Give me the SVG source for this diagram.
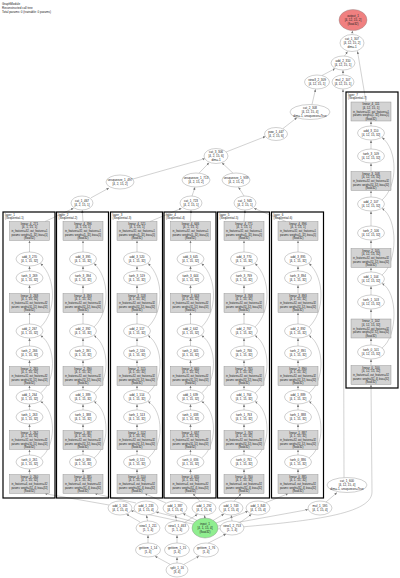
<svg xmlns="http://www.w3.org/2000/svg" width="400" height="578" viewBox="0 0 400 578">
<defs>
<style>
text{font-family:"Liberation Sans",Arial,sans-serif;font-size:3px;fill:#222;text-anchor:middle}
.hd text,.cl>text{text-anchor:start}
.cl>rect{fill:none;stroke:#000;stroke-width:1.2}
.bx rect{fill:#d3d3d3;stroke:#888;stroke-width:0.4}
.el ellipse{fill:#fff;stroke:#888;stroke-width:0.4}
#edges line,#edges path{stroke:#9a9a9a;stroke-width:0.45;fill:none;marker-end:url(#ah)}
</style>
<marker id="ah" markerUnits="userSpaceOnUse" markerWidth="3" markerHeight="3" refX="2.6" refY="1.2" orient="auto"><path d="M0,0 L2.6,1.2 L0,2.4z" fill="#777"/></marker>
</defs>
<rect width="400" height="578" fill="#fff"/>
<g class="hd"><text x="2" y="5">GraphModule</text><text x="2" y="9">Reconstructed call tree</text><text x="2" y="13">Total params: 0 (trainable: 0 params)</text></g>

<g id="edges">
<line x1="352" y1="34.5" x2="352.5" y2="30.8"/>
<line x1="344.5" y1="56" x2="347.5" y2="51.6"/>
<line x1="366" y1="102" x2="357.5" y2="51.3"/>
<line x1="322" y1="75.5" x2="335" y2="68.6"/>
<line x1="343" y1="75" x2="343" y2="70.3"/>
<line x1="312" y1="104.5" x2="315.5" y2="89.3"/>
<line x1="344" y1="477.6" x2="343" y2="89.3"/>
<line x1="283" y1="128.5" x2="297" y2="117.6"/>
<line x1="226" y1="152" x2="265.5" y2="136.5"/>
<line x1="133" y1="179" x2="205" y2="158.6"/>
<line x1="199" y1="173.2" x2="209" y2="162.8"/>
<line x1="233" y1="173.2" x2="222" y2="162.8"/>
<line x1="91" y1="197.8" x2="109" y2="188"/>
<line x1="192" y1="196" x2="195" y2="187.3"/>
<line x1="244" y1="196" x2="238.5" y2="187.2"/>
<line x1="45" y1="221.5" x2="73.5" y2="208.3"/>
<line x1="83" y1="221.5" x2="82.2" y2="210.3"/>
<line x1="150" y1="221.5" x2="181.5" y2="208.3"/>
<line x1="190.5" y1="221.5" x2="191" y2="210.3"/>
<line x1="244" y1="221.5" x2="245" y2="210.3"/>
<line x1="286" y1="221.5" x2="254" y2="208.3"/>
<line x1="109" y1="505" x2="45" y2="493.7"/>
<line x1="136" y1="503" x2="95" y2="493.7"/>
<line x1="166" y1="503" x2="145" y2="493.7"/>
<line x1="200" y1="501.3" x2="193" y2="493.7"/>
<line x1="234" y1="501.3" x2="241" y2="493.7"/>
<line x1="266" y1="502.5" x2="288" y2="493.7"/>
<line x1="140" y1="522" x2="126.5" y2="514.3"/>
<line x1="147.5" y1="521" x2="146.5" y2="515.3"/>
<line x1="176.5" y1="521" x2="175.5" y2="515.3"/>
<line x1="184.5" y1="522.5" x2="197.5" y2="514.3"/>
<line x1="232" y1="521" x2="231.2" y2="515.3"/>
<line x1="240" y1="522.5" x2="251.5" y2="514.3"/>
<line x1="193" y1="524" x2="131" y2="510.8"/>
<line x1="194.5" y1="522" x2="156" y2="512"/>
<line x1="197" y1="520.5" x2="183" y2="513.5"/>
<line x1="205" y1="518" x2="204.3" y2="515.3"/>
<line x1="213" y1="520.5" x2="224" y2="514"/>
<line x1="216" y1="523" x2="248" y2="511.3"/>
<line x1="218" y1="526" x2="308" y2="509.6"/>
<path d="M218,529 C300,522 372,516 372,492 L371,384.8"/>
<line x1="326" y1="502" x2="337" y2="492.6"/>
<line x1="148" y1="543" x2="148" y2="535.3"/>
<line x1="177" y1="543" x2="177" y2="535.3"/>
<line x1="208" y1="543.2" x2="226" y2="534"/>
<line x1="170" y1="564.3" x2="155" y2="556.2"/>
<line x1="177" y1="563" x2="177" y2="557.3"/>
<line x1="184" y1="564.3" x2="199" y2="556.2"/>
<g transform="translate(29.5,0)">
<line x1="0" y1="474.5" x2="0" y2="469.3"/><line x1="0" y1="455" x2="0" y2="449.8"/><line x1="0" y1="430.5" x2="0" y2="424.3"/><line x1="0" y1="410" x2="0" y2="404.3"/><line x1="0" y1="390" x2="0" y2="385.8"/><line x1="0" y1="366.5" x2="0" y2="360.3"/><line x1="0" y1="346" x2="0" y2="338.3"/><line x1="0" y1="324" x2="0" y2="312.8"/><line x1="0" y1="293.5" x2="0" y2="285.3"/><line x1="0" y1="271" x2="0" y2="266.3"/><line x1="0" y1="252" x2="0" y2="240.8"/>
<path d="M11,458 C27,446 27,411 11,401.5"/><path d="M11,393 C27,381 27,346 11,335.5"/><path d="M11,327 C27,312 27,278 11,263.5"/>
</g>
<g transform="translate(83,0)">
<line x1="0" y1="474.5" x2="0" y2="469.3"/><line x1="0" y1="455" x2="0" y2="449.8"/><line x1="0" y1="430.5" x2="0" y2="424.3"/><line x1="0" y1="410" x2="0" y2="404.3"/><line x1="0" y1="390" x2="0" y2="385.8"/><line x1="0" y1="366.5" x2="0" y2="360.3"/><line x1="0" y1="346" x2="0" y2="338.3"/><line x1="0" y1="324" x2="0" y2="312.8"/><line x1="0" y1="293.5" x2="0" y2="285.3"/><line x1="0" y1="271" x2="0" y2="266.3"/><line x1="0" y1="252" x2="0" y2="240.8"/>
<path d="M11,458 C27,446 27,411 11,401.5"/><path d="M11,393 C27,381 27,346 11,335.5"/><path d="M11,327 C27,312 27,278 11,263.5"/>
</g>
<g transform="translate(137,0)">
<line x1="0" y1="474.5" x2="0" y2="469.3"/><line x1="0" y1="455" x2="0" y2="449.8"/><line x1="0" y1="430.5" x2="0" y2="424.3"/><line x1="0" y1="410" x2="0" y2="404.3"/><line x1="0" y1="390" x2="0" y2="385.8"/><line x1="0" y1="366.5" x2="0" y2="360.3"/><line x1="0" y1="346" x2="0" y2="338.3"/><line x1="0" y1="324" x2="0" y2="312.8"/><line x1="0" y1="293.5" x2="0" y2="285.3"/><line x1="0" y1="271" x2="0" y2="266.3"/><line x1="0" y1="252" x2="0" y2="240.8"/>
<path d="M11,458 C27,446 27,411 11,401.5"/><path d="M11,393 C27,381 27,346 11,335.5"/><path d="M11,327 C27,312 27,278 11,263.5"/>
</g>
<g transform="translate(190.5,0)">
<line x1="0" y1="474.5" x2="0" y2="469.3"/><line x1="0" y1="455" x2="0" y2="449.8"/><line x1="0" y1="430.5" x2="0" y2="424.3"/><line x1="0" y1="410" x2="0" y2="404.3"/><line x1="0" y1="390" x2="0" y2="385.8"/><line x1="0" y1="366.5" x2="0" y2="360.3"/><line x1="0" y1="346" x2="0" y2="338.3"/><line x1="0" y1="324" x2="0" y2="312.8"/><line x1="0" y1="293.5" x2="0" y2="285.3"/><line x1="0" y1="271" x2="0" y2="266.3"/><line x1="0" y1="252" x2="0" y2="240.8"/>
<path d="M11,458 C27,446 27,411 11,401.5"/><path d="M11,393 C27,381 27,346 11,335.5"/><path d="M11,327 C27,312 27,278 11,263.5"/>
</g>
<g transform="translate(244,0)">
<line x1="0" y1="474.5" x2="0" y2="469.3"/><line x1="0" y1="455" x2="0" y2="449.8"/><line x1="0" y1="430.5" x2="0" y2="424.3"/><line x1="0" y1="410" x2="0" y2="404.3"/><line x1="0" y1="390" x2="0" y2="385.8"/><line x1="0" y1="366.5" x2="0" y2="360.3"/><line x1="0" y1="346" x2="0" y2="338.3"/><line x1="0" y1="324" x2="0" y2="312.8"/><line x1="0" y1="293.5" x2="0" y2="285.3"/><line x1="0" y1="271" x2="0" y2="266.3"/><line x1="0" y1="252" x2="0" y2="240.8"/>
<path d="M11,458 C27,446 27,411 11,401.5"/><path d="M11,393 C27,381 27,346 11,335.5"/><path d="M11,327 C27,312 27,278 11,263.5"/>
</g>
<g transform="translate(298,0)">
<line x1="0" y1="474.5" x2="0" y2="469.3"/><line x1="0" y1="455" x2="0" y2="449.8"/><line x1="0" y1="430.5" x2="0" y2="424.3"/><line x1="0" y1="410" x2="0" y2="404.3"/><line x1="0" y1="390" x2="0" y2="385.8"/><line x1="0" y1="366.5" x2="0" y2="360.3"/><line x1="0" y1="346" x2="0" y2="338.3"/><line x1="0" y1="324" x2="0" y2="312.8"/><line x1="0" y1="293.5" x2="0" y2="285.3"/><line x1="0" y1="271" x2="0" y2="266.3"/><line x1="0" y1="252" x2="0" y2="240.8"/>
<path d="M11,458 C27,446 27,411 11,401.5"/><path d="M11,393 C27,381 27,346 11,335.5"/><path d="M11,327 C27,312 27,278 11,263.5"/>
</g>
<g transform="translate(371,0)">
<line x1="0" y1="365.5" x2="0" y2="359.3"/><line x1="0" y1="345" x2="0" y2="338.3"/><line x1="0" y1="319" x2="0" y2="309.3"/><line x1="0" y1="295" x2="0" y2="286.3"/><line x1="0" y1="272" x2="0" y2="267.8"/><line x1="0" y1="248.5" x2="0" y2="240.3"/><line x1="0" y1="226" x2="0" y2="211.3"/><line x1="0" y1="197" x2="0" y2="190.8"/><line x1="0" y1="171.5" x2="0" y2="163.3"/><line x1="0" y1="149" x2="0" y2="140.3"/><line x1="0" y1="126" x2="0" y2="121.3"/>
<path d="M11,348 C27,336 27,292 11,283.5"/><path d="M11,275 C27,262 27,218 11,208.5"/><path d="M11,200 C27,186 27,150 11,137.5"/>
</g>
</g>

<g id="output_1" class="el" transform="translate(353,20)"><ellipse rx="14" ry="10.5" style="fill:#f08080"/><text y="-2.6">output_1</text><text y="1">[4, 12, 15, 2]</text><text y="4.6">(float32)</text></g>
<g id="cat_1_307" class="el" transform="translate(352,43)"><ellipse rx="12" ry="8.5"/><text y="-2.6">cat_1_307</text><text y="1">[4, 12, 15, 2]</text><text y="4.6">dim=-1</text></g>
<g id="add_2_310" class="el" transform="translate(343,63)"><ellipse rx="12" ry="7"/><text y="-0.8">add_2_310</text><text y="2.8">[4, 12, 15, 1]</text></g>
<g id="view3_2_309" class="el" transform="translate(317,82)"><ellipse rx="12.5" ry="7"/><text y="-0.8">view3_2_309</text><text y="2.8">[4, 12, 15, 1]</text></g>
<g id="mul_2_107" class="el" transform="translate(343,82)"><ellipse rx="11" ry="7"/><text y="-0.8">mul_2_107</text><text y="2.8">[4, 12, 15, 1]</text></g>
<g id="cat_2_308" class="el" transform="translate(310,112)"><ellipse rx="20" ry="7.5"/><text y="-2.6">cat_2_308</text><text y="1">[4, 12, 15, 4]</text><text y="4.6">dim=-1, unsqueeze=True</text></g>
<g id="pow_1_447" class="el" transform="translate(276,134)"><ellipse rx="11.5" ry="6.5"/><text y="-0.8">pow_1_447</text><text y="2.8">[4, 2, 15, 6]</text></g>
<g id="cat_3_306" class="el" transform="translate(216,156)"><ellipse rx="12" ry="7.5"/><text y="-2.6">cat_3_306</text><text y="1">[4, 2, 15, 6]</text><text y="4.6">dim=-1</text></g>
<g id="unsqueeze_1_497" class="el" transform="translate(120,182)"><ellipse rx="14" ry="7"/><text y="-0.8">unsqueeze_1_497</text><text y="2.8">[4, 2, 15, 2]</text></g>
<g id="unsqueeze_1_713" class="el" transform="translate(196,180)"><ellipse rx="14" ry="7"/><text y="-0.8">unsqueeze_1_713</text><text y="2.8">[4, 2, 15, 2]</text></g>
<g id="unsqueeze_1_939" class="el" transform="translate(236,180)"><ellipse rx="14" ry="7"/><text y="-0.8">unsqueeze_1_939</text><text y="2.8">[4, 2, 15, 2]</text></g>
<g id="cat_1_467" class="el" transform="translate(82,203)"><ellipse rx="11" ry="7"/><text y="-0.8">cat_1_467</text><text y="2.8">[4, 2, 15, 1]</text></g>
<g id="cat_1_723" class="el" transform="translate(191,203)"><ellipse rx="11" ry="7"/><text y="-0.8">cat_1_723</text><text y="2.8">[4, 2, 15, 1]</text></g>
<g id="cat_1_945" class="el" transform="translate(245,203)"><ellipse rx="11" ry="7"/><text y="-0.8">cat_1_945</text><text y="2.8">[4, 2, 15, 1]</text></g>

<g id="layer_1" class="cl">
<rect x="3" y="212" width="52" height="286"/><text x="5" y="215.8">layer_1</text><text x="5" y="219.2">(Sequential-1)</text>
<g id="linear_4_271" class="bx" transform="translate(29.5,231)"><rect x="-20" y="-9.5" width="40" height="19"/><text y="-6.2">linear_4_271</text><text y="-2.6">[4, 1, 15, 1]</text><text y="1" textLength="36" lengthAdjust="spacingAndGlyphs">in_features=32, out_features=1</text><text y="4.6" textLength="36" lengthAdjust="spacingAndGlyphs">params: weight=[1, 32], bias=[1]</text><text y="8.2">(float32)</text></g>
<g id="add_3_270" class="el" transform="translate(29.5,259)"><ellipse rx="13.5" ry="7"/><text y="-0.8">add_3_270</text><text y="2.8">[4, 1, 15, 32]</text></g>
<g id="tanh_3_269" class="el" transform="translate(29.5,278)"><ellipse rx="13.5" ry="7"/><text y="-0.8">tanh_3_269</text><text y="2.8">[4, 1, 15, 32]</text></g>
<g id="linear_3_268" class="bx" transform="translate(29.5,303)"><rect x="-20" y="-9.5" width="40" height="19"/><text y="-6.2">linear_3_268</text><text y="-2.6">[4, 1, 15, 32]</text><text y="1" textLength="36" lengthAdjust="spacingAndGlyphs">in_features=32, out_features=32</text><text y="4.6" textLength="36" lengthAdjust="spacingAndGlyphs">params: weight=[32, 32], bias=[32]</text><text y="8.2">(float32)</text></g>
<g id="add_2_267" class="el" transform="translate(29.5,331)"><ellipse rx="13.5" ry="7"/><text y="-0.8">add_2_267</text><text y="2.8">[4, 1, 15, 32]</text></g>
<g id="tanh_2_266" class="el" transform="translate(29.5,353)"><ellipse rx="13.5" ry="7"/><text y="-0.8">tanh_2_266</text><text y="2.8">[4, 1, 15, 32]</text></g>
<g id="linear_2_265" class="bx" transform="translate(29.5,376)"><rect x="-20" y="-9.5" width="40" height="19"/><text y="-6.2">linear_2_265</text><text y="-2.6">[4, 1, 15, 32]</text><text y="1" textLength="36" lengthAdjust="spacingAndGlyphs">in_features=32, out_features=32</text><text y="4.6" textLength="36" lengthAdjust="spacingAndGlyphs">params: weight=[32, 32], bias=[32]</text><text y="8.2">(float32)</text></g>
<g id="add_1_264" class="el" transform="translate(29.5,397)"><ellipse rx="13.5" ry="7"/><text y="-0.8">add_1_264</text><text y="2.8">[4, 1, 15, 32]</text></g>
<g id="tanh_1_263" class="el" transform="translate(29.5,417)"><ellipse rx="13.5" ry="7"/><text y="-0.8">tanh_1_263</text><text y="2.8">[4, 1, 15, 32]</text></g>
<g id="linear_1_262" class="bx" transform="translate(29.5,440)"><rect x="-20" y="-9.5" width="40" height="19"/><text y="-6.2">linear_1_262</text><text y="-2.6">[4, 1, 15, 32]</text><text y="1" textLength="36" lengthAdjust="spacingAndGlyphs">in_features=32, out_features=32</text><text y="4.6" textLength="36" lengthAdjust="spacingAndGlyphs">params: weight=[32, 32], bias=[32]</text><text y="8.2">(float32)</text></g>
<g id="tanh_0_261" class="el" transform="translate(29.5,462)"><ellipse rx="13.5" ry="7"/><text y="-0.8">tanh_0_261</text><text y="2.8">[4, 1, 15, 32]</text></g>
<g id="linear_0_260" class="bx" transform="translate(29.5,484)"><rect x="-20" y="-9.5" width="40" height="19"/><text y="-6.2">linear_0_260</text><text y="-2.6">[4, 1, 15, 32]</text><text y="1" textLength="36" lengthAdjust="spacingAndGlyphs">in_features=4, out_features=32</text><text y="4.6" textLength="36" lengthAdjust="spacingAndGlyphs">params: weight=[32, 4], bias=[32]</text><text y="8.2">(float32)</text></g>
</g>

<g id="layer_2" class="cl">
<rect x="56.5" y="212" width="52" height="286"/><text x="58.5" y="215.8">layer_2</text><text x="58.5" y="219.2">(Sequential-2)</text>
<g id="linear_4_396" class="bx" transform="translate(83,231)"><rect x="-20" y="-9.5" width="40" height="19"/><text y="-6.2">linear_4_396</text><text y="-2.6">[4, 1, 15, 1]</text><text y="1" textLength="36" lengthAdjust="spacingAndGlyphs">in_features=32, out_features=1</text><text y="4.6" textLength="36" lengthAdjust="spacingAndGlyphs">params: weight=[1, 32], bias=[1]</text><text y="8.2">(float32)</text></g>
<g id="add_3_395" class="el" transform="translate(83,259)"><ellipse rx="13.5" ry="7"/><text y="-0.8">add_3_395</text><text y="2.8">[4, 1, 15, 32]</text></g>
<g id="tanh_3_394" class="el" transform="translate(83,278)"><ellipse rx="13.5" ry="7"/><text y="-0.8">tanh_3_394</text><text y="2.8">[4, 1, 15, 32]</text></g>
<g id="linear_3_393" class="bx" transform="translate(83,303)"><rect x="-20" y="-9.5" width="40" height="19"/><text y="-6.2">linear_3_393</text><text y="-2.6">[4, 1, 15, 32]</text><text y="1" textLength="36" lengthAdjust="spacingAndGlyphs">in_features=32, out_features=32</text><text y="4.6" textLength="36" lengthAdjust="spacingAndGlyphs">params: weight=[32, 32], bias=[32]</text><text y="8.2">(float32)</text></g>
<g id="add_2_392" class="el" transform="translate(83,331)"><ellipse rx="13.5" ry="7"/><text y="-0.8">add_2_392</text><text y="2.8">[4, 1, 15, 32]</text></g>
<g id="tanh_2_391" class="el" transform="translate(83,353)"><ellipse rx="13.5" ry="7"/><text y="-0.8">tanh_2_391</text><text y="2.8">[4, 1, 15, 32]</text></g>
<g id="linear_2_390" class="bx" transform="translate(83,376)"><rect x="-20" y="-9.5" width="40" height="19"/><text y="-6.2">linear_2_390</text><text y="-2.6">[4, 1, 15, 32]</text><text y="1" textLength="36" lengthAdjust="spacingAndGlyphs">in_features=32, out_features=32</text><text y="4.6" textLength="36" lengthAdjust="spacingAndGlyphs">params: weight=[32, 32], bias=[32]</text><text y="8.2">(float32)</text></g>
<g id="add_1_389" class="el" transform="translate(83,397)"><ellipse rx="13.5" ry="7"/><text y="-0.8">add_1_389</text><text y="2.8">[4, 1, 15, 32]</text></g>
<g id="tanh_1_388" class="el" transform="translate(83,417)"><ellipse rx="13.5" ry="7"/><text y="-0.8">tanh_1_388</text><text y="2.8">[4, 1, 15, 32]</text></g>
<g id="linear_1_387" class="bx" transform="translate(83,440)"><rect x="-20" y="-9.5" width="40" height="19"/><text y="-6.2">linear_1_387</text><text y="-2.6">[4, 1, 15, 32]</text><text y="1" textLength="36" lengthAdjust="spacingAndGlyphs">in_features=32, out_features=32</text><text y="4.6" textLength="36" lengthAdjust="spacingAndGlyphs">params: weight=[32, 32], bias=[32]</text><text y="8.2">(float32)</text></g>
<g id="tanh_0_386" class="el" transform="translate(83,462)"><ellipse rx="13.5" ry="7"/><text y="-0.8">tanh_0_386</text><text y="2.8">[4, 1, 15, 32]</text></g>
<g id="linear_0_385" class="bx" transform="translate(83,484)"><rect x="-20" y="-9.5" width="40" height="19"/><text y="-6.2">linear_0_385</text><text y="-2.6">[4, 1, 15, 32]</text><text y="1" textLength="36" lengthAdjust="spacingAndGlyphs">in_features=4, out_features=32</text><text y="4.6" textLength="36" lengthAdjust="spacingAndGlyphs">params: weight=[32, 4], bias=[32]</text><text y="8.2">(float32)</text></g>
</g>

<g id="layer_3" class="cl">
<rect x="110.5" y="212" width="52" height="286"/><text x="112.5" y="215.8">layer_3</text><text x="112.5" y="219.2">(Sequential-3)</text>
<g id="linear_4_521" class="bx" transform="translate(137,231)"><rect x="-20" y="-9.5" width="40" height="19"/><text y="-6.2">linear_4_521</text><text y="-2.6">[4, 1, 15, 1]</text><text y="1" textLength="36" lengthAdjust="spacingAndGlyphs">in_features=32, out_features=1</text><text y="4.6" textLength="36" lengthAdjust="spacingAndGlyphs">params: weight=[1, 32], bias=[1]</text><text y="8.2">(float32)</text></g>
<g id="add_3_520" class="el" transform="translate(137,259)"><ellipse rx="13.5" ry="7"/><text y="-0.8">add_3_520</text><text y="2.8">[4, 1, 15, 32]</text></g>
<g id="tanh_3_519" class="el" transform="translate(137,278)"><ellipse rx="13.5" ry="7"/><text y="-0.8">tanh_3_519</text><text y="2.8">[4, 1, 15, 32]</text></g>
<g id="linear_3_518" class="bx" transform="translate(137,303)"><rect x="-20" y="-9.5" width="40" height="19"/><text y="-6.2">linear_3_518</text><text y="-2.6">[4, 1, 15, 32]</text><text y="1" textLength="36" lengthAdjust="spacingAndGlyphs">in_features=32, out_features=32</text><text y="4.6" textLength="36" lengthAdjust="spacingAndGlyphs">params: weight=[32, 32], bias=[32]</text><text y="8.2">(float32)</text></g>
<g id="add_2_517" class="el" transform="translate(137,331)"><ellipse rx="13.5" ry="7"/><text y="-0.8">add_2_517</text><text y="2.8">[4, 1, 15, 32]</text></g>
<g id="tanh_2_516" class="el" transform="translate(137,353)"><ellipse rx="13.5" ry="7"/><text y="-0.8">tanh_2_516</text><text y="2.8">[4, 1, 15, 32]</text></g>
<g id="linear_2_515" class="bx" transform="translate(137,376)"><rect x="-20" y="-9.5" width="40" height="19"/><text y="-6.2">linear_2_515</text><text y="-2.6">[4, 1, 15, 32]</text><text y="1" textLength="36" lengthAdjust="spacingAndGlyphs">in_features=32, out_features=32</text><text y="4.6" textLength="36" lengthAdjust="spacingAndGlyphs">params: weight=[32, 32], bias=[32]</text><text y="8.2">(float32)</text></g>
<g id="add_1_514" class="el" transform="translate(137,397)"><ellipse rx="13.5" ry="7"/><text y="-0.8">add_1_514</text><text y="2.8">[4, 1, 15, 32]</text></g>
<g id="tanh_1_513" class="el" transform="translate(137,417)"><ellipse rx="13.5" ry="7"/><text y="-0.8">tanh_1_513</text><text y="2.8">[4, 1, 15, 32]</text></g>
<g id="linear_1_512" class="bx" transform="translate(137,440)"><rect x="-20" y="-9.5" width="40" height="19"/><text y="-6.2">linear_1_512</text><text y="-2.6">[4, 1, 15, 32]</text><text y="1" textLength="36" lengthAdjust="spacingAndGlyphs">in_features=32, out_features=32</text><text y="4.6" textLength="36" lengthAdjust="spacingAndGlyphs">params: weight=[32, 32], bias=[32]</text><text y="8.2">(float32)</text></g>
<g id="tanh_0_511" class="el" transform="translate(137,462)"><ellipse rx="13.5" ry="7"/><text y="-0.8">tanh_0_511</text><text y="2.8">[4, 1, 15, 32]</text></g>
<g id="linear_0_510" class="bx" transform="translate(137,484)"><rect x="-20" y="-9.5" width="40" height="19"/><text y="-6.2">linear_0_510</text><text y="-2.6">[4, 1, 15, 32]</text><text y="1" textLength="36" lengthAdjust="spacingAndGlyphs">in_features=4, out_features=32</text><text y="4.6" textLength="36" lengthAdjust="spacingAndGlyphs">params: weight=[32, 4], bias=[32]</text><text y="8.2">(float32)</text></g>
</g>

<g id="layer_4" class="cl">
<rect x="164" y="212" width="52" height="286"/><text x="166" y="215.8">layer_4</text><text x="166" y="219.2">(Sequential-4)</text>
<g id="linear_4_646" class="bx" transform="translate(190.5,231)"><rect x="-20" y="-9.5" width="40" height="19"/><text y="-6.2">linear_4_646</text><text y="-2.6">[4, 1, 15, 1]</text><text y="1" textLength="36" lengthAdjust="spacingAndGlyphs">in_features=32, out_features=1</text><text y="4.6" textLength="36" lengthAdjust="spacingAndGlyphs">params: weight=[1, 32], bias=[1]</text><text y="8.2">(float32)</text></g>
<g id="add_3_645" class="el" transform="translate(190.5,259)"><ellipse rx="13.5" ry="7"/><text y="-0.8">add_3_645</text><text y="2.8">[4, 1, 15, 32]</text></g>
<g id="tanh_3_644" class="el" transform="translate(190.5,278)"><ellipse rx="13.5" ry="7"/><text y="-0.8">tanh_3_644</text><text y="2.8">[4, 1, 15, 32]</text></g>
<g id="linear_3_643" class="bx" transform="translate(190.5,303)"><rect x="-20" y="-9.5" width="40" height="19"/><text y="-6.2">linear_3_643</text><text y="-2.6">[4, 1, 15, 32]</text><text y="1" textLength="36" lengthAdjust="spacingAndGlyphs">in_features=32, out_features=32</text><text y="4.6" textLength="36" lengthAdjust="spacingAndGlyphs">params: weight=[32, 32], bias=[32]</text><text y="8.2">(float32)</text></g>
<g id="add_2_642" class="el" transform="translate(190.5,331)"><ellipse rx="13.5" ry="7"/><text y="-0.8">add_2_642</text><text y="2.8">[4, 1, 15, 32]</text></g>
<g id="tanh_2_641" class="el" transform="translate(190.5,353)"><ellipse rx="13.5" ry="7"/><text y="-0.8">tanh_2_641</text><text y="2.8">[4, 1, 15, 32]</text></g>
<g id="linear_2_640" class="bx" transform="translate(190.5,376)"><rect x="-20" y="-9.5" width="40" height="19"/><text y="-6.2">linear_2_640</text><text y="-2.6">[4, 1, 15, 32]</text><text y="1" textLength="36" lengthAdjust="spacingAndGlyphs">in_features=32, out_features=32</text><text y="4.6" textLength="36" lengthAdjust="spacingAndGlyphs">params: weight=[32, 32], bias=[32]</text><text y="8.2">(float32)</text></g>
<g id="add_1_639" class="el" transform="translate(190.5,397)"><ellipse rx="13.5" ry="7"/><text y="-0.8">add_1_639</text><text y="2.8">[4, 1, 15, 32]</text></g>
<g id="tanh_1_638" class="el" transform="translate(190.5,417)"><ellipse rx="13.5" ry="7"/><text y="-0.8">tanh_1_638</text><text y="2.8">[4, 1, 15, 32]</text></g>
<g id="linear_1_637" class="bx" transform="translate(190.5,440)"><rect x="-20" y="-9.5" width="40" height="19"/><text y="-6.2">linear_1_637</text><text y="-2.6">[4, 1, 15, 32]</text><text y="1" textLength="36" lengthAdjust="spacingAndGlyphs">in_features=32, out_features=32</text><text y="4.6" textLength="36" lengthAdjust="spacingAndGlyphs">params: weight=[32, 32], bias=[32]</text><text y="8.2">(float32)</text></g>
<g id="tanh_0_636" class="el" transform="translate(190.5,462)"><ellipse rx="13.5" ry="7"/><text y="-0.8">tanh_0_636</text><text y="2.8">[4, 1, 15, 32]</text></g>
<g id="linear_0_635" class="bx" transform="translate(190.5,484)"><rect x="-20" y="-9.5" width="40" height="19"/><text y="-6.2">linear_0_635</text><text y="-2.6">[4, 1, 15, 32]</text><text y="1" textLength="36" lengthAdjust="spacingAndGlyphs">in_features=4, out_features=32</text><text y="4.6" textLength="36" lengthAdjust="spacingAndGlyphs">params: weight=[32, 4], bias=[32]</text><text y="8.2">(float32)</text></g>
</g>

<g id="layer_5" class="cl">
<rect x="217.5" y="212" width="52" height="286"/><text x="219.5" y="215.8">layer_5</text><text x="219.5" y="219.2">(Sequential-5)</text>
<g id="linear_4_771" class="bx" transform="translate(244,231)"><rect x="-20" y="-9.5" width="40" height="19"/><text y="-6.2">linear_4_771</text><text y="-2.6">[4, 1, 15, 1]</text><text y="1" textLength="36" lengthAdjust="spacingAndGlyphs">in_features=32, out_features=1</text><text y="4.6" textLength="36" lengthAdjust="spacingAndGlyphs">params: weight=[1, 32], bias=[1]</text><text y="8.2">(float32)</text></g>
<g id="add_3_770" class="el" transform="translate(244,259)"><ellipse rx="13.5" ry="7"/><text y="-0.8">add_3_770</text><text y="2.8">[4, 1, 15, 32]</text></g>
<g id="tanh_3_769" class="el" transform="translate(244,278)"><ellipse rx="13.5" ry="7"/><text y="-0.8">tanh_3_769</text><text y="2.8">[4, 1, 15, 32]</text></g>
<g id="linear_3_768" class="bx" transform="translate(244,303)"><rect x="-20" y="-9.5" width="40" height="19"/><text y="-6.2">linear_3_768</text><text y="-2.6">[4, 1, 15, 32]</text><text y="1" textLength="36" lengthAdjust="spacingAndGlyphs">in_features=32, out_features=32</text><text y="4.6" textLength="36" lengthAdjust="spacingAndGlyphs">params: weight=[32, 32], bias=[32]</text><text y="8.2">(float32)</text></g>
<g id="add_2_767" class="el" transform="translate(244,331)"><ellipse rx="13.5" ry="7"/><text y="-0.8">add_2_767</text><text y="2.8">[4, 1, 15, 32]</text></g>
<g id="tanh_2_766" class="el" transform="translate(244,353)"><ellipse rx="13.5" ry="7"/><text y="-0.8">tanh_2_766</text><text y="2.8">[4, 1, 15, 32]</text></g>
<g id="linear_2_765" class="bx" transform="translate(244,376)"><rect x="-20" y="-9.5" width="40" height="19"/><text y="-6.2">linear_2_765</text><text y="-2.6">[4, 1, 15, 32]</text><text y="1" textLength="36" lengthAdjust="spacingAndGlyphs">in_features=32, out_features=32</text><text y="4.6" textLength="36" lengthAdjust="spacingAndGlyphs">params: weight=[32, 32], bias=[32]</text><text y="8.2">(float32)</text></g>
<g id="add_1_764" class="el" transform="translate(244,397)"><ellipse rx="13.5" ry="7"/><text y="-0.8">add_1_764</text><text y="2.8">[4, 1, 15, 32]</text></g>
<g id="tanh_1_763" class="el" transform="translate(244,417)"><ellipse rx="13.5" ry="7"/><text y="-0.8">tanh_1_763</text><text y="2.8">[4, 1, 15, 32]</text></g>
<g id="linear_1_762" class="bx" transform="translate(244,440)"><rect x="-20" y="-9.5" width="40" height="19"/><text y="-6.2">linear_1_762</text><text y="-2.6">[4, 1, 15, 32]</text><text y="1" textLength="36" lengthAdjust="spacingAndGlyphs">in_features=32, out_features=32</text><text y="4.6" textLength="36" lengthAdjust="spacingAndGlyphs">params: weight=[32, 32], bias=[32]</text><text y="8.2">(float32)</text></g>
<g id="tanh_0_761" class="el" transform="translate(244,462)"><ellipse rx="13.5" ry="7"/><text y="-0.8">tanh_0_761</text><text y="2.8">[4, 1, 15, 32]</text></g>
<g id="linear_0_760" class="bx" transform="translate(244,484)"><rect x="-20" y="-9.5" width="40" height="19"/><text y="-6.2">linear_0_760</text><text y="-2.6">[4, 1, 15, 32]</text><text y="1" textLength="36" lengthAdjust="spacingAndGlyphs">in_features=4, out_features=32</text><text y="4.6" textLength="36" lengthAdjust="spacingAndGlyphs">params: weight=[32, 4], bias=[32]</text><text y="8.2">(float32)</text></g>
</g>

<g id="layer_6" class="cl">
<rect x="271.5" y="212" width="52" height="286"/><text x="273.5" y="215.8">layer_6</text><text x="273.5" y="219.2">(Sequential-6)</text>
<g id="linear_4_896" class="bx" transform="translate(298,231)"><rect x="-20" y="-9.5" width="40" height="19"/><text y="-6.2">linear_4_896</text><text y="-2.6">[4, 1, 15, 1]</text><text y="1" textLength="36" lengthAdjust="spacingAndGlyphs">in_features=32, out_features=1</text><text y="4.6" textLength="36" lengthAdjust="spacingAndGlyphs">params: weight=[1, 32], bias=[1]</text><text y="8.2">(float32)</text></g>
<g id="add_3_895" class="el" transform="translate(298,259)"><ellipse rx="13.5" ry="7"/><text y="-0.8">add_3_895</text><text y="2.8">[4, 1, 15, 32]</text></g>
<g id="tanh_3_894" class="el" transform="translate(298,278)"><ellipse rx="13.5" ry="7"/><text y="-0.8">tanh_3_894</text><text y="2.8">[4, 1, 15, 32]</text></g>
<g id="linear_3_893" class="bx" transform="translate(298,303)"><rect x="-20" y="-9.5" width="40" height="19"/><text y="-6.2">linear_3_893</text><text y="-2.6">[4, 1, 15, 32]</text><text y="1" textLength="36" lengthAdjust="spacingAndGlyphs">in_features=32, out_features=32</text><text y="4.6" textLength="36" lengthAdjust="spacingAndGlyphs">params: weight=[32, 32], bias=[32]</text><text y="8.2">(float32)</text></g>
<g id="add_2_892" class="el" transform="translate(298,331)"><ellipse rx="13.5" ry="7"/><text y="-0.8">add_2_892</text><text y="2.8">[4, 1, 15, 32]</text></g>
<g id="tanh_2_891" class="el" transform="translate(298,353)"><ellipse rx="13.5" ry="7"/><text y="-0.8">tanh_2_891</text><text y="2.8">[4, 1, 15, 32]</text></g>
<g id="linear_2_890" class="bx" transform="translate(298,376)"><rect x="-20" y="-9.5" width="40" height="19"/><text y="-6.2">linear_2_890</text><text y="-2.6">[4, 1, 15, 32]</text><text y="1" textLength="36" lengthAdjust="spacingAndGlyphs">in_features=32, out_features=32</text><text y="4.6" textLength="36" lengthAdjust="spacingAndGlyphs">params: weight=[32, 32], bias=[32]</text><text y="8.2">(float32)</text></g>
<g id="add_1_889" class="el" transform="translate(298,397)"><ellipse rx="13.5" ry="7"/><text y="-0.8">add_1_889</text><text y="2.8">[4, 1, 15, 32]</text></g>
<g id="tanh_1_888" class="el" transform="translate(298,417)"><ellipse rx="13.5" ry="7"/><text y="-0.8">tanh_1_888</text><text y="2.8">[4, 1, 15, 32]</text></g>
<g id="linear_1_887" class="bx" transform="translate(298,440)"><rect x="-20" y="-9.5" width="40" height="19"/><text y="-6.2">linear_1_887</text><text y="-2.6">[4, 1, 15, 32]</text><text y="1" textLength="36" lengthAdjust="spacingAndGlyphs">in_features=32, out_features=32</text><text y="4.6" textLength="36" lengthAdjust="spacingAndGlyphs">params: weight=[32, 32], bias=[32]</text><text y="8.2">(float32)</text></g>
<g id="tanh_0_886" class="el" transform="translate(298,462)"><ellipse rx="13.5" ry="7"/><text y="-0.8">tanh_0_886</text><text y="2.8">[4, 1, 15, 32]</text></g>
<g id="linear_0_885" class="bx" transform="translate(298,484)"><rect x="-20" y="-9.5" width="40" height="19"/><text y="-6.2">linear_0_885</text><text y="-2.6">[4, 1, 15, 32]</text><text y="1" textLength="36" lengthAdjust="spacingAndGlyphs">in_features=4, out_features=32</text><text y="4.6" textLength="36" lengthAdjust="spacingAndGlyphs">params: weight=[32, 4], bias=[32]</text><text y="8.2">(float32)</text></g>
</g>

<g id="layer_7" class="cl">
<rect x="346" y="92" width="52" height="296"/><text x="348" y="95.8">layer_7</text><text x="348" y="99.2">(Sequential-7)</text>
<g id="linear_4_111" class="bx" transform="translate(371,111.5)"><rect x="-20" y="-9.5" width="40" height="19"/><text y="-6.2">linear_4_111</text><text y="-2.6">[4, 12, 15, 1]</text><text y="1" textLength="36" lengthAdjust="spacingAndGlyphs">in_features=32, out_features=1</text><text y="4.6" textLength="36" lengthAdjust="spacingAndGlyphs">params: weight=[1, 32], bias=[1]</text><text y="8.2">(float32)</text></g>
<g id="add_3_110" class="el" transform="translate(371,133)"><ellipse rx="13.5" ry="7"/><text y="-0.8">add_3_110</text><text y="2.8">[4, 12, 15, 32]</text></g>
<g id="tanh_3_109" class="el" transform="translate(371,156)"><ellipse rx="13.5" ry="7"/><text y="-0.8">tanh_3_109</text><text y="2.8">[4, 12, 15, 32]</text></g>
<g id="linear_3_108" class="bx" transform="translate(371,181)"><rect x="-20" y="-9.5" width="40" height="19"/><text y="-6.2">linear_3_108</text><text y="-2.6">[4, 12, 15, 32]</text><text y="1" textLength="36" lengthAdjust="spacingAndGlyphs">in_features=32, out_features=32</text><text y="4.6" textLength="36" lengthAdjust="spacingAndGlyphs">params: weight=[32, 32], bias=[32]</text><text y="8.2">(float32)</text></g>
<g id="add_2_107" class="el" transform="translate(371,204)"><ellipse rx="13.5" ry="7"/><text y="-0.8">add_2_107</text><text y="2.8">[4, 12, 15, 32]</text></g>
<g id="tanh_2_106" class="el" transform="translate(371,233)"><ellipse rx="13.5" ry="7"/><text y="-0.8">tanh_2_106</text><text y="2.8">[4, 12, 15, 32]</text></g>
<g id="linear_2_105" class="bx" transform="translate(371,258)"><rect x="-20" y="-9.5" width="40" height="19"/><text y="-6.2">linear_2_105</text><text y="-2.6">[4, 12, 15, 32]</text><text y="1" textLength="36" lengthAdjust="spacingAndGlyphs">in_features=32, out_features=32</text><text y="4.6" textLength="36" lengthAdjust="spacingAndGlyphs">params: weight=[32, 32], bias=[32]</text><text y="8.2">(float32)</text></g>
<g id="add_1_104" class="el" transform="translate(371,279)"><ellipse rx="13.5" ry="7"/><text y="-0.8">add_1_104</text><text y="2.8">[4, 12, 15, 32]</text></g>
<g id="tanh_1_103" class="el" transform="translate(371,302)"><ellipse rx="13.5" ry="7"/><text y="-0.8">tanh_1_103</text><text y="2.8">[4, 12, 15, 32]</text></g>
<g id="linear_1_102" class="bx" transform="translate(371,328.5)"><rect x="-20" y="-9.5" width="40" height="19"/><text y="-6.2">linear_1_102</text><text y="-2.6">[4, 12, 15, 32]</text><text y="1" textLength="36" lengthAdjust="spacingAndGlyphs">in_features=32, out_features=32</text><text y="4.6" textLength="36" lengthAdjust="spacingAndGlyphs">params: weight=[32, 32], bias=[32]</text><text y="8.2">(float32)</text></g>
<g id="tanh_0_101" class="el" transform="translate(371,352)"><ellipse rx="13.5" ry="7"/><text y="-0.8">tanh_0_101</text><text y="2.8">[4, 12, 15, 32]</text></g>
<g id="linear_0_100" class="bx" transform="translate(371,375)"><rect x="-20" y="-9.5" width="40" height="19"/><text y="-6.2">linear_0_100</text><text y="-2.6">[4, 12, 15, 32]</text><text y="1" textLength="36" lengthAdjust="spacingAndGlyphs">in_features=4, out_features=32</text><text y="4.6" textLength="36" lengthAdjust="spacingAndGlyphs">params: weight=[32, 4], bias=[32]</text><text y="8.2">(float32)</text></g>
</g>

<g id="add_1_161" class="el" transform="translate(120,508)"><ellipse rx="12" ry="7"/><text y="-0.8">add_1_161</text><text y="2.8">[4, 1, 15, 4]</text></g>
<g id="add_1_233" class="el" transform="translate(146,508)"><ellipse rx="12" ry="7"/><text y="-0.8">add_1_233</text><text y="2.8">[4, 1, 15, 4]</text></g>
<g id="add_1_387" class="el" transform="translate(175,508)"><ellipse rx="12" ry="7"/><text y="-0.8">add_1_387</text><text y="2.8">[4, 1, 15, 4]</text></g>
<g id="add_1_292" class="el" transform="translate(204,508)"><ellipse rx="12" ry="7"/><text y="-0.8">add_1_292</text><text y="2.8">[4, 1, 15, 4]</text></g>
<g id="add_1_743" class="el" transform="translate(231,508)"><ellipse rx="12" ry="7"/><text y="-0.8">add_1_743</text><text y="2.8">[4, 1, 15, 4]</text></g>
<g id="add_1_843" class="el" transform="translate(258,508)"><ellipse rx="12" ry="7"/><text y="-0.8">add_1_843</text><text y="2.8">[4, 1, 15, 4]</text></g>
<g id="mul_1_595" class="el" transform="translate(320,508)"><ellipse rx="12" ry="7"/><text y="-0.8">mul_1_595</text><text y="2.8">[4, 1, 15, 4]</text></g>
<g id="cat_1_600" class="el" transform="translate(347,485)"><ellipse rx="20" ry="7.5"/><text y="-2.6">cat_1_600</text><text y="1">[4, 12, 15, 4]</text><text y="4.6">dim=-1, unsqueeze=True</text></g>
<g id="view1_1_211" class="el" transform="translate(148,528)"><ellipse rx="12" ry="7"/><text y="-0.8">view1_1_211</text><text y="2.8">[1, 1, 4]</text></g>
<g id="view1_1_463" class="el" transform="translate(177,528)"><ellipse rx="12" ry="7"/><text y="-0.8">view1_1_463</text><text y="2.8">[1, 1, 4]</text></g>
<g id="view1_2_753" class="el" transform="translate(232,528)"><ellipse rx="12" ry="7"/><text y="-0.8">view1_2_753</text><text y="2.8">[1, 1, 4]</text></g>
<g id="input_1" class="el" transform="translate(205,528)"><ellipse rx="13" ry="10" style="fill:#90ee90"/><text y="-2.6">input_1</text><text y="1">[4, 1, 15, 4]</text><text y="4.6">(float32)</text></g>
<g id="getitem_1_14" class="el" transform="translate(148,550)"><ellipse rx="12.5" ry="7"/><text y="-0.8">getitem_1_14</text><text y="2.8">[1, 4]</text></g>
<g id="getitem_1_15" class="el" transform="translate(177,550)"><ellipse rx="12.5" ry="7"/><text y="-0.8">getitem_1_15</text><text y="2.8">[1, 4]</text></g>
<g id="getitem_1_76" class="el" transform="translate(206,550)"><ellipse rx="12.5" ry="7"/><text y="-0.8">getitem_1_76</text><text y="2.8">[1, 4]</text></g>
<g id="split_1_16" class="el" transform="translate(177,570)"><ellipse rx="11" ry="7"/><text y="-0.8">split_1_16</text><text y="2.8">[3, 4]</text></g>
</svg>
